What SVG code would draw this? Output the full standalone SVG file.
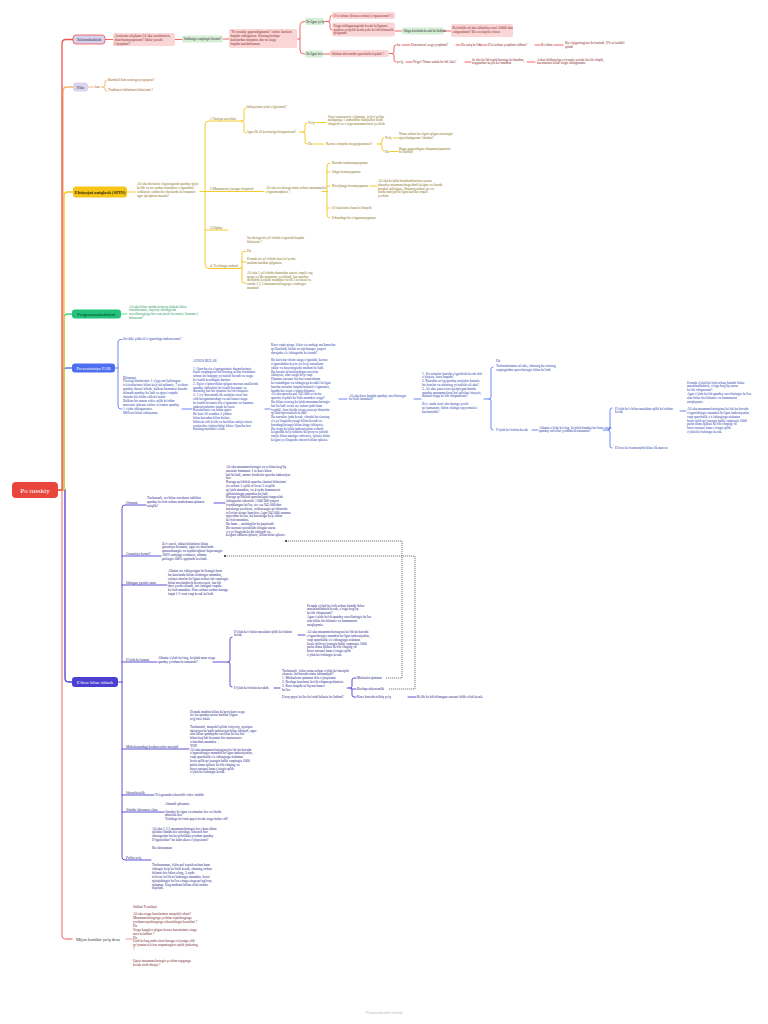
<svg xmlns="http://www.w3.org/2000/svg" width="768" height="1024" viewBox="0 0 768 1024">
<defs>
<style>
.t{font-family:"Liberation Serif","DejaVu Serif",serif;font-size:3.5px}
.n{font-family:"Liberation Serif","DejaVu Serif",serif;font-size:4.6px}
.r{fill:#8a2b2b}.o{fill:#9a5a1a}.y{fill:#8a7420}.g{fill:#1f9a63}.b{fill:#2d3fb0}.i{fill:#2e2a8a}.m{fill:#7a2b35}.k{fill:#333}
.pb{fill:#fbd6d6}.gb{fill:#d6edd6}
.lr,.lo,.ly,.lg,.lb,.li,.lm{fill:none;stroke-width:0.9;stroke-linecap:round}
.lr{stroke:#ef5350}.lo{stroke:#f7b267}.ly{stroke:#f5c518}.lg{stroke:#3dd68c}.lb{stroke:#5b7cf7}.li{stroke:#4a3fcf}.lm{stroke:#f48a8a}
.main{stroke-width:1.3}
.dash{fill:none;stroke:#444;stroke-width:0.7;stroke-dasharray:1.2 0.8}
</style>
<marker id="dot" markerWidth="4" markerHeight="4" refX="2" refY="2" markerUnits="userSpaceOnUse"><circle cx="2" cy="2" r="1.1" fill="#333"/></marker>
</defs>
<rect width="768" height="1024" fill="#ffffff"/>

<g id="connectors">
<path class="li main" d="M58,490 H65 V678 Q65,682 69,682 H72"/>
<path class="lm main" d="M58,490 H62 V935 Q62,939 66,939 H72"/>
<path class="lb main" d="M58,490 H63 V372 Q63,368 67,368 H72"/>
<path class="lg main" d="M58,490 H64 V318 Q64,314 68,314 H72"/>
<path class="ly main" d="M58,490 H64 V196 Q64,192 68,192 H73"/>
<path class="lo main" d="M58,490 H63 V91 Q63,87 67,87 H73"/>
<path class="lr main" d="M58,490 H62 V43.5 Q62,39.5 66,39.5 H73"/>
<!-- branch 1 -->
<path class="lr" d="M105,39.5 H113 M175,39.5 H182 M223,39 H229 M297,39 H300 V25.5 Q300,21.5 304,21.5 H305 M300,39 V50 Q300,54 304,54 H305"/>
<path class="lr" d="M324,21.5 H328 Q330,21.5 330,19.5 V17.5 Q330,15.5 332,15.5 M328,21.5 Q330,21.5 330,23.5 V28 Q330,30 332,30 M395,31 H402 M444,31 H451 M323,54 H330"/>
<path class="lr" d="M389,53.5 H392 Q394,53.5 394,51.5 V47 Q394,45 396,45 M392,53.5 Q394,53.5 394,55.5 V60 Q394,62 396,62"/>
<path class="lr" d="M402,45 H410 M456,45 H460 M480,45 H487 M535,45 H540 M554,45 H563 M406,62 H412 M465,62 H471 M527,62 H535"/>
<!-- branch 2 -->
<path class="lo" d="M88,87 H93 M101,87 H103 Q105,87 105,85 V82 Q105,80 107,80 M103,87 Q105,87 105,89 Q105,91 107,91"/>
<!-- branch 3 -->
<path class="ly" d="M127,192 H135 M200,191.5 H209 M205,191.5 V125 Q205,121 209,121 H241 M205,191.5 V264.5 Q205,268.5 209,268.5 H240 M205,230 H228"/>
<path class="ly" d="M241,121 H242 Q244,121 244,119 V110 Q244,108 246,108 M242,121 Q244,121 244,123 V131 Q244,133 246,133"/>
<path class="ly" d="M299,132 H303 Q305,132 305,130 V125 Q305,123 307,123 M303,132 Q305,132 305,134 V142 Q305,144 307,144 M315,122.5 H326 M313,144 H324"/>
<path class="ly" d="M377,144 H380 Q382,144 382,142 V140 Q382,138 384,138 M380,144 Q382,144 382,146 V149 Q382,151 384,151 M393,138 H398 M390,151.5 H398"/>
<path class="ly" d="M209,191.5 H264 M322,191.5 H327 M327,191.5 V166 Q327,163 330,163 M327,191.5 V215 Q327,218 330,218 M327,172 H330 M327,186 H330 M327,208 H330 M370,186 H377"/>
<path class="ly" d="M240,268.5 Q242,268.5 242,266.5 V253.5 Q242,251.5 244,251.5 H246 M242,266.5 V281 Q242,283 244,283 H246 M242,262 H246"/>
<!-- branch 4 -->
<path class="lg" d="M121,314 H127"/>
<!-- branch 5 -->
<path class="lb" d="M115,368 H118 M118,368 V342 Q118,339.5 120.5,339.5 H122 M118,368 V406 Q118,409 121,409 H122 M182,409 H192 M265,409 H270 M339,399 H347 M414,399 H421"/>
<path class="lb" d="M484,399 H489 Q491,399 491,397 V369 Q491,367 493,367 M489,399 Q491,399 491,401 V428 Q491,430 493,430 M532,430 H538"/>
<path class="lb" d="M603,430 H608 Q610,430 610,428 V410 Q610,408 612,408 M608,430 Q610,430 610,432 V446 Q610,448 612,448 M680,411 H686"/>
<!-- branch 6 -->
<path class="li" d="M118,682 H122 M122,682 V508 Q122,505 125,505 H146 M122,682 V857 Q122,860 125,860 H151 M122,556 H161 M122,585 H167 M122,662 H157 M122,749 H189 M122,795 H154 M122,812 H164"/>
<path class="li" d="M214,503 H225 M213,662 H228 Q230,662 230,660 V639 Q230,637 232,637 M228,662 Q230,662 230,664 V685 Q230,687 232,687 M298,635 H305 M274,688 H280"/>
<path class="li" d="M347,688 H350 Q352,688 352,686 V680 Q352,678 354,678 H356 M350,688 Q352,688 352,690 V695 Q352,697 354,697 H356 M352,689 H356 M408,697 H416"/>
<path class="dash" marker-start="url(#dot)" d="M286,541 H402 V678 H386"/>
<path class="dash" marker-start="url(#dot)" d="M225,556 H415 V689 H388"/>
<!-- branch 7 -->
<path class="lm" d="M126,939 H132"/>
</g>

<g id="node-root">
<rect x="12" y="482" width="46" height="16" rx="4" fill="#e8453c"/>
<text x="35" y="492.5" text-anchor="middle" font-family="Liberation Serif, serif" font-size="7" fill="#fff">Po russkiy</text>
</g>

<g id="node-salom">
<rect x="73" y="35" width="32" height="9" rx="3" fill="#d8d0ef" stroke="#ef5350" stroke-width="0.8"/>
<text class="n k" x="89" y="41" text-anchor="middle">Salomlashish</text>
</g>
<g id="node-assalom">
<rect class="pb" x="113" y="33" width="62" height="13" rx="2"/>
<text class="t r" x="114.5" y="37.3">Assalomu alaykum Ali aka yaxshimisiz,<tspan x="114.5" dy="3.8">charchamayapsizmi? Ishlar yaxshi</tspan><tspan x="114.5" dy="3.8">o'tyaptimi?</tspan></text>
</g>
<g id="node-suhbat">
<rect class="gb" x="182" y="35.5" width="41" height="7" rx="2"/>
<text class="t k" x="183.5" y="40.2">Suhbatga vaqtingiz bormi?</text>
</g>
<g id="node-kurslar">
<rect class="pb" x="229" y="29" width="68" height="19" rx="2"/>
<text class="t r" x="230.5" y="33.2">"Po russkiy gapiradiganmiz" online kurslari<tspan x="230.5" dy="3.8">haqida eshitgansiz. Sizning boshqa</tspan><tspan x="230.5" dy="3.8">kurslardan farqimiz shu va sizga</tspan><tspan x="230.5" dy="3.8">haqida tanishtiraman</tspan></text>
</g>
<g id="node-bolganyoq">
<rect class="gb" x="305" y="18" width="19" height="7" rx="2"/>
<text class="t k" x="306.3" y="22.7">Bo'lgan yo'q</text>
</g>
<g id="node-bolganbor">
<rect class="gb" x="305" y="50.5" width="18" height="7" rx="2"/>
<text class="t k" x="306.3" y="55.2">Bo'lgan bor</text>
</g>
<g id="node-ozi">
<rect class="pb" x="332" y="12" width="63" height="7" rx="2"/>
<text class="t r" x="333.5" y="16.7">O'zi uchun (biznes uchun) o'rganasizmi? )</text>
</g>
<g id="node-sizga">
<rect class="pb" x="332" y="22.5" width="63" height="14" rx="2"/>
<text class="t r" x="333.5" y="26.7">Sizga ishlaganingizda kerak bo'lganmi,<tspan x="333.5" dy="3.8">qachon yo'qolib ketdi yoki ko'rib bilmaslik</tspan><tspan x="333.5" dy="3.8">qolganmi</tspan></text>
</g>
<g id="node-ishga">
<rect class="gb" x="402" y="27.5" width="42" height="7" rx="2"/>
<text class="t k" x="403.5" y="32.2">Ishga kirishda kerak bo'ladimi</text>
</g>
<g id="node-kelib">
<rect class="pb" x="451" y="24" width="62" height="13" rx="2"/>
<text class="t r" x="452.5" y="29">Kelishilib ali aka ishlatilsa sizni 10000 dan<tspan x="452.5" dy="3.8">oshgandami? Biz siz kuyib o'tasiz</tspan></text>
</g>
<g id="node-ishlatar">
<rect class="pb" x="330" y="50" width="59" height="7" rx="2"/>
<text class="t r" x="331.5" y="54.7">Ishlatar davomida qanchalik foydali ?</text>
</g>
<g id="b1-chain" class="t r">
<text x="397" y="46.2">ha</text>
<text x="411" y="46.2">Darsimizni nega yoqdimi?</text>
<text x="461" y="46.2">Ha aniq bo'ldi</text>
<text x="488" y="46.2">O'zi uchun yoqdimi oldimi?</text>
<text x="541" y="46.2">Ko'rdim</text>
<text x="565" y="44.2">Bu o'qiganingizni ko'rsatadi, 6% ni tashkil<tspan x="565" dy="3.8">qiladi</tspan></text>
<text x="397" y="63.2">yo'q</text>
<text x="413" y="63.2">Nega? Nima sabab bo'ldi Aka?</text>
<text x="472" y="60.5">Ja shu bo'ldi topib kursiga kelmadim,<tspan x="472" dy="3.8">topgandan keyin ko'rmadim</tspan></text>
<text x="537" y="60.5">Arkas bildiraolga ro'yxatni yaxshi ko'rib chiqib,<tspan x="537" dy="3.8">kursimizni bilan birga ishlaganmiz</tspan></text>
</g>

<g id="node-fikr">
<rect x="73" y="82.5" width="15" height="9" rx="3" fill="#dcd3f0"/>
<text class="n k" x="80.5" y="88.5" text-anchor="middle">Fikr</text>
<text class="t o" x="94" y="88.2">Aaa</text>
<text class="t o" x="108" y="81">Barchali kim sotuvga yozyapsiz?</text>
<text class="t o" x="108" y="91">Traditsion bilimlarni bilasizmi ?</text>
</g>

<g id="node-spin">
<rect x="73" y="186.5" width="54" height="11" rx="3" fill="#f5c518"/>
<text class="n" x="100" y="193.6" text-anchor="middle" fill="#3a2a00" font-weight="bold">Ehtiyojni aniqlash (SPIN)</text>
<text class="t y" x="137" y="185">Ali aka darslarni olganingizda qanday qiyin<tspan x="137" dy="3.9">bo'ldi va siz undan nimalarni o'rganishni</tspan><tspan x="137" dy="3.9">xohlaysiz ushbu biz darslarda ko'rsatamiz</tspan><tspan x="137" dy="3.9">agar qiziqtirsa masala?</tspan></text>
</g>
<g id="spin-1" class="t y">
<text x="210" y="119.8">1.Vaziyat savollari</text>
<text x="246.5" y="107.5">Ishlaysizmi yoki o'qiysizmi?</text>
<text x="246.5" y="132.5">Agar ilk til kurslariga borgansizmi?</text>
<text x="308" y="123.5">Yo'q</text>
<text x="328" y="117.5">Sizni zamonaviy o'qitamiz, to'g'ri yo'lga<tspan x="328" dy="3.8">tashqariga 1 nimadirlar ikkalasini bilan</tspan><tspan x="328" dy="3.8">chiqarib va o'ziga muammolarni yechish</tspan></text>
<text x="308" y="145">Ha</text>
<text x="326" y="145">Kursni ortiqcha megayganmisiz?</text>
<text x="385" y="139">Yo'q</text>
<text x="399" y="134.8">Nima uchun bu ilgari qilgan narsangiz<tspan x="399" dy="3.8">qiyinlashganmi Adraksi?</tspan></text>
<text x="385" y="152.5">Ha</text>
<text x="399" y="149.5">Bugu gapiradigan chiqarmayapsizmi<tspan x="399" dy="3.8">bo'ladimi?</tspan></text>
</g>
<g id="spin-2" class="t y">
<text x="210" y="190.3">2.Muammoni yuzaga chiqarish</text>
<text x="266" y="189.3">Ali aka siz darsga nima uchun muammolar<tspan x="266" dy="3.8">o'rganmoqdasiz ?</tspan></text>
<text x="332" y="164">Kursda tushunmayapman</text>
<text x="332" y="173">Ishga bormayapman</text>
<text x="332" y="187">Rivojlanga bormayapman</text>
<text x="332" y="209">O'z kursimiz ham bo'lmaydi</text>
<text x="332" y="219">Ichimdagi bir o'rganmayapman</text>
<text x="378" y="182">Ali aka ko'plab hamkasblarimiz aynan<tspan x="378" dy="3.8">shunday muammolarga duch kelgan va bunda</tspan><tspan x="378" dy="3.8">harakat qilishgan. Shuning uchun siz va</tspan><tspan x="378" dy="3.8">bizda mavjud bo'lgan kurslar orqali</tspan><tspan x="378" dy="3.8">yechim.</tspan></text>
</g>
<g id="spin-3" class="t y">
<text x="210" y="228.8">3.Oqibat</text>
</g>
<g id="spin-4" class="t y">
<text x="210" y="267.3">4. Yechimga undash</text>
<text x="247" y="238.8">Siz darsga bir yil ichida o'rganish haqida<tspan x="247" dy="3.8">bilasizmi ?</tspan></text>
<text x="247" y="252.3">Ha</text>
<text x="247" y="259.8">Demak siz yil ichida kurs bo'yicha<tspan x="247" dy="3.8">muhim harakat qilgansiz.</tspan></text>
<text x="247" y="273.8">Ali aka 1 yil ichida dasturdan ustozi orqali eng<tspan x="247" dy="3.8">qisqa yo'lda muammo yechiladi, har qanday</tspan><tspan x="247" dy="3.8">darslarda ko'plab mashqlar berib 3 ta narsa va</tspan><tspan x="247" dy="3.8">ustida 1,2,3 muammolaringizga erishingiz</tspan><tspan x="247" dy="3.8">mumkin</tspan></text>
</g>

<g id="node-program">
<rect x="72" y="309.5" width="49" height="9" rx="3" fill="#22c27a"/>
<text class="n" x="96.5" y="315.5" text-anchor="middle" fill="#0b3a22">Programmalashtirish</text>
<text class="t g" x="129" y="307.5">Ali aka bilan sinfda ko'proq ishlash bilan<tspan x="129" dy="3.9">tanishtiramiz, hayotiy sinfingizda</tspan><tspan x="129" dy="3.9">savollaringizga bir soat javob beramiz ( hamma )</tspan><tspan x="129" dy="3.9">bilasizmi?</tspan></text>
</g>

<g id="node-prez">
<rect x="72" y="363.5" width="43" height="9" rx="3" fill="#4e6ef2"/>
<text class="n" x="93.5" y="369.5" text-anchor="middle" fill="#fff">Prezentatsiya FAB</text>
</g>
<g id="prez-items" class="t b">
<text x="123" y="339.5">Siz ikki yilda til o'rganishga imkonsizmi?</text>
<text x="123" y="378.5">Bilamani,<tspan x="123" dy="3.9">Hozirgi kunlarimiz 1 o'yga mo'ljallangan</tspan><tspan x="123" dy="3.9">telefonlarimiz bilan ko'p ish qilamiz, 7 ta darsi</tspan><tspan x="123" dy="3.9">qanday darsni bilsak, balkim hammasi kursda</tspan><tspan x="123" dy="3.9">bilmadi qanday bo'ladi va qaysi vaqtda</tspan><tspan x="123" dy="3.9">shunda biz bilim olib ko'ramiz</tspan><tspan x="123" dy="3.9">Balkim bir marta video qilib ko'rdim</tspan><tspan x="123" dy="3.9">mavzuni qilasan online so'ramiz qanday</tspan><tspan x="123" dy="3.9">1 o'yda ishlaganimiz.</tspan><tspan x="123" dy="3.9">Millioni bilan ishlayman</tspan></text>
<text x="193" y="362">AFSUS BULAR<tspan x="193" dy="7.6">1. Qancha siz o'rgatganimiz dasturlarimiz</tspan><tspan x="193" dy="3.8">bizni vaqtingizni bu bizning ta'lim tizimimiz</tspan><tspan x="193" dy="3.8">uchun bir haqiqiy yo'nalish beradi va sizga</tspan><tspan x="193" dy="3.8">ko'rsatib beradigan darslar.</tspan><tspan x="193" dy="3.8">2. Ilg'or o'qituvchilar qilgan maxsus usullarida</tspan><tspan x="193" dy="3.8">qanday ishlashini ko'rsatib beramiz va</tspan><tspan x="193" dy="3.8">darsning har bir qismini ko'rib chiqasiz.</tspan><tspan x="193" dy="3.8">3. 1 o'y davomida ilk natijalar sizni biz</tspan><tspan x="193" dy="3.8">olib borganimizdagi va ma'lumot sizga</tspan><tspan x="193" dy="3.8">ko'rsatib beramiz biz o'rgatamiz va hamma</tspan><tspan x="193" dy="3.8">imkoniyatlarini sinab ko'rasiz.</tspan><tspan x="193" dy="3.8">Kurslarimiz esa bilim qator</tspan><tspan x="193" dy="3.8">Bu kun 10 soatdan 3 yildan</tspan><tspan x="193" dy="3.8">bilan kursdan bilim bolari.</tspan><tspan x="193" dy="3.8">Ishtirok etib kelib va bu bilan natija olasiz</tspan><tspan x="193" dy="3.8">yuzlarcha o'qituvchilar bilan. Qancha bor</tspan><tspan x="193" dy="3.8">bizning narsalari eslab.</tspan></text>
<text x="271" y="346">Kurs vaqti qisqa, lekin siz undagi ma'lumotlar<tspan x="271" dy="3.8">qo'llaniladi, bilim va tajribangiz yuqori</tspan><tspan x="271" dy="3.8">darajada o'z ishingizda ko'rinadi?</tspan><tspan x="271" dy="7.6">Bu kurs har doim sizga o'rganish, kursni</tspan><tspan x="271" dy="3.8">o'rganishdan keyin siz ko'p narsalarni</tspan><tspan x="271" dy="3.8">ishlar va hayotingizda muhim bo'ladi.</tspan><tspan x="271" dy="3.8">Bu kursni ta'minlaydigan ustozlar</tspan><tspan x="271" dy="3.8">ishlaysiz, ular sizga ko'p vaqt</tspan><tspan x="271" dy="3.8">Hamma narsani biz har tomonlama</tspan><tspan x="271" dy="3.8">ko'rsatadigan va ishingizga kerakli bo'lgan</tspan><tspan x="271" dy="3.8">barcha narsalar haqida batafsil o'rgatamiz,</tspan><tspan x="271" dy="3.8">bunda biz sizni o'zimiz bilamiz.</tspan><tspan x="271" dy="3.8">Ali aka qancha pul 945 000 so'm bu</tspan><tspan x="271" dy="3.8">qancha foydali bo'lishi mumkin sizga?</tspan><tspan x="271" dy="3.8">Bu bilan sizning ko'plab muammolaringiz</tspan><tspan x="271" dy="3.8">hal bo'ladi va bu siz uchun juda ham</tspan><tspan x="271" dy="3.8">foydali, kurs bizda sizga yana qo'shimcha</tspan><tspan x="271" dy="3.8">qo'llab-quvvatlash beradi.</tspan><tspan x="271" dy="3.8">Bu narsalar juda kerak, chunki bu sizning</tspan><tspan x="271" dy="3.8">o'z yo'lingizda yangi bilim beradi va</tspan><tspan x="271" dy="3.8">kursdagilaringiz bilan birga ishlaysiz.</tspan><tspan x="271" dy="3.8">Bu sizga ko'plab imkoniyatlar ochadi,</tspan><tspan x="271" dy="3.8">kelgusida ko'p ishlarni ko'proq va yaxshi</tspan><tspan x="271" dy="3.8">natija bilan amalga oshirasiz, qilasiz bilan</tspan><tspan x="271" dy="3.8">kelgusi yo'lingizda ishonch bilan qilasiz.</tspan></text>
<text x="349" y="396.5">Ali aka kurs haqida qanday savollaringiz<tspan x="349" dy="3.8">bo'lishi mumkin?</tspan></text>
<text x="422" y="374.5">1. Siz nimalar kursda o'rgatilishi kerak deb<tspan x="422" dy="3.8">o'ylaysiz, kurs haqida?</tspan><tspan x="422" dy="3.8">2. Kursdan so'ng qanday natijalar kutasiz</tspan><tspan x="422" dy="3.8">bu kurslar va ularning yo'nalishi ali aka?</tspan><tspan x="422" dy="3.8">3. Ali aka yana sizni qiziqtirgan bunda</tspan><tspan x="422" dy="3.8">qanday muammolarni hal qilishni istaysiz,</tspan><tspan x="422" dy="3.8">bularni birga ko'rib chiqamizmi?</tspan><tspan x="422" dy="7.6">Zo'r, unda sizni shu kursga yozib</tspan><tspan x="422" dy="3.8">qo'yamanmi, bilim olishga tayyormisiz</tspan><tspan x="422" dy="3.8">kursimizda?</tspan></text>
<text x="496" y="361.5">Ha</text>
<text x="496" y="367">Tushuntiraman ali aka, ishining bu sizning<tspan x="496" dy="3.8">ongingizdan qarorlaringiz bilan bo'ladi</tspan></text>
<text x="496" y="431.3">O'ylab ko'rishim kerak</text>
<text x="539" y="428.5">Albatta o'ylab ko'ring, ko'plab hamkorlar ham sizga<tspan x="539" dy="3.8">qanday savollar yordam beramanmi?</tspan></text>
<text x="615" y="409.5">O'ylab ko'r bilan maslahat qilib ko'rishim<tspan x="615" dy="3.8">kerak</tspan></text>
<text x="615" y="449.3">E'tiroz ko'rsatmoqchi bilan ilk mavzu</text>
<text x="687" y="383.5">Demak o'ylab ko'rish uchun kimdir bilan<tspan x="687" dy="3.8">maslahatlashish, o'ziga bog'liq narsa</tspan><tspan x="687" dy="3.8">ko'rib chiqasizmi?</tspan><tspan x="687" dy="3.8">Agar o'ylab ko'rib qanday savollaringiz bo'lsa</tspan><tspan x="687" dy="3.8">ular bilan biz bilamiz va hammasini</tspan><tspan x="687" dy="3.8">aniqlaymiz.</tspan><tspan x="687" dy="7.6">Ali aka muammolaringizni ko'rib bu kursda</tspan><tspan x="687" dy="3.8">o'rganishingiz mumkin bo'lgan imkoniyatlar,</tspan><tspan x="687" dy="3.8">vaqt qanchalik o'z ishingizga nisbatan</tspan><tspan x="687" dy="3.8">hozir qilib qo'ysangiz balki vaqtingiz 1000</tspan><tspan x="687" dy="3.8">pulni nima qilasiz ko'rib chiqing va</tspan><tspan x="687" dy="3.8">biror narsani ham o'zingiz qilib</tspan><tspan x="687" dy="3.8">o'ylab ko'rishingiz kerak.</tspan></text>
</g>

<g id="node-etiroz">
<rect x="72" y="677" width="46" height="10" rx="3" fill="#4a3fcf"/>
<text class="n" x="95" y="683.5" text-anchor="middle" fill="#fff">E'tiroz bilan ishlash</text>
</g>
<g id="etiroz-items" class="t i">
<text x="126" y="503.8">Qimmat</text>
<text x="147" y="499">Tushunarli, siz bilan narxlarni taklifini<tspan x="147" dy="3.8">qanday ko'rish uchun muhokama qilamiz</tspan><tspan x="147" dy="3.8">aniqlik?</tspan></text>
<text x="226" y="468">Ali aka muammolaringiz va u bilan bog'liq<tspan x="226" dy="3.8">narsalar hammasi 1 ta kurs bilan</tspan><tspan x="226" dy="3.8">hal bo'ladi, ammo bizda bir qancha imkoniyat</tspan><tspan x="226" dy="3.8">bor.</tspan><tspan x="226" dy="3.8">Kursga qo'shilish qancha ekanini bilasizmi</tspan><tspan x="226" dy="3.8">siz uchun 1 oylik to'lovni 3 ta qilib</tspan><tspan x="226" dy="3.8">qo'yish mumkin, va 4 oyda hammasini</tspan><tspan x="226" dy="3.8">ishlatishingiz mumkin bo'ladi.</tspan><tspan x="226" dy="3.8">Kursga qo'shilish qanchaligini taqqoslab</tspan><tspan x="226" dy="3.8">ishlaganlar ishonchi 1 000 000 yuqori</tspan><tspan x="226" dy="3.8">foydalangan bo'lsa, siz esa 945 000 dan</tspan><tspan x="226" dy="3.8">kurslarga yozilasiz, xohlasangiz qo'shimcha</tspan><tspan x="226" dy="3.8">to'lovlar tizimi ham bor. Agar 945 000 summa</tspan><tspan x="226" dy="3.8">qayerdan bo'lsa, bu kurslarga ko'p ishlar</tspan><tspan x="226" dy="3.8">ko'rish mumkin.</tspan><tspan x="226" dy="3.8">Bu ham ... mablag'lar ko'paytiradi.</tspan><tspan x="226" dy="3.8">Bir narsani yaxshilab olingan narsa</tspan><tspan x="226" dy="3.8">o'z yo'lingizda kelib ishlaydi va</tspan><tspan x="226" dy="3.8">kelgusi ishlarni qilasiz, bilim bilan qilasiz.</tspan></text>
<text x="126" y="554.8">Garantiya bormi?</text>
<text x="162" y="544.5">Zo'r savol, ulkan bilimlarni bilan<tspan x="162" dy="3.9">garantiya beramiz, agar siz darslarda</tspan><tspan x="162" dy="3.9">qatnashsangiz va topshiriqlarni bajarsangiz</tspan><tspan x="162" dy="3.9">100% natijaga erishasiz, albatta</tspan><tspan x="162" dy="3.9">pulingiz 100% qaytarib beriladi.</tspan></text>
<text x="126" y="583.8">Ishlagan yaxshi emas</text>
<text x="168" y="572">Albatta siz ishlayotgan bo'lsangiz ham<tspan x="168" dy="3.85">bu kurslarda bilim olishingiz mumkin,</tspan><tspan x="168" dy="3.85">onlayn darslar bo'lgani uchun ish vaqtingiz</tspan><tspan x="168" dy="3.85">bilan moslashtirib boraverasiz, har bir</tspan><tspan x="168" dy="3.85">dars yozib olinadi, uni istalgan vaqtda</tspan><tspan x="168" dy="3.85">ko'rish mumkin. Dars uchun sizdan kuniga</tspan><tspan x="168" dy="3.85">faqat 1-2 soat vaqt kerak bo'ladi.</tspan></text>
<text x="126" y="660.8">O'ylab ko'raman</text>
<text x="158" y="659.3">Albatta o'ylab ko'ring, ko'plab man sizga<tspan x="158" dy="3.8">qanday yordam beramanmi?</tspan></text>
<text x="234" y="632.5">O'ylab ko'r bilan maslahat qilib ko'rishim<tspan x="234" dy="3.8">kerak</tspan></text>
<text x="307" y="606.5">Demak o'ylab ko'rish uchun kimdir bilan<tspan x="307" dy="3.8">maslahatlashish kerak, o'ziga bog'liq</tspan><tspan x="307" dy="3.8">ko'rib chiqasizmi?</tspan><tspan x="307" dy="3.8">Agar o'ylab ko'rib qanday savollaringiz bo'lsa</tspan><tspan x="307" dy="3.8">ular bilan biz bilamiz va hammasini</tspan><tspan x="307" dy="3.8">aniqlaymiz.</tspan><tspan x="307" dy="7.6">Ali aka muammolaringizni ko'rib bu kursda</tspan><tspan x="307" dy="3.8">o'rganishingiz mumkin bo'lgan imkoniyatlar,</tspan><tspan x="307" dy="3.8">vaqt qanchalik o'z ishingizga nisbatan</tspan><tspan x="307" dy="3.8">hozir qilib qo'ysangiz balki vaqtingiz 1000</tspan><tspan x="307" dy="3.8">pulni nima qilasiz ko'rib chiqing va</tspan><tspan x="307" dy="3.8">biror narsani ham o'zingiz qilib</tspan><tspan x="307" dy="3.8">o'ylab ko'rishingiz kerak.</tspan></text>
<text x="234" y="688.5">O'ylab ko'rishim kerakde</text>
<text x="282" y="671.5">Tushunarli, lekin nima uchun o'ylab ko'rmoqchi<tspan x="282" dy="3.8">ekansiz, bu kursda nima ishlamaydi?</tspan><tspan x="282" dy="3.8">1. Mahsulotni qimmat deb o'ylaysizmi</tspan><tspan x="282" dy="3.8">2. Boshqa kurslarni ko'rib chiqmoqchimisiz</tspan><tspan x="282" dy="3.8">3. Kurs haqida to'liq ma'lumot</tspan><tspan x="282" dy="3.8">bo'lsa</tspan><tspan x="282" dy="7.6">Uzoq qaysi bo'lar ko'rindi bilasiz bo'ladimi?</tspan></text>
<text x="357" y="679">Mahsulot qimmat</text>
<text x="357" y="690">Boshqa takozomlik</text>
<text x="357" y="698">Kurs kursida tolbiq yo'q</text>
<text x="417" y="698">Kelib ko'rib bilmagan narsani bilib olish kerak.</text>
<text x="126" y="747.8">Muhokamadagi konkurentlar mavjud</text>
<text x="190" y="712.5">Demak muhim bilan ko'proq kurs nega<tspan x="190" dy="3.8">siz bu qanday narsa kurslar o'tgan</tspan><tspan x="190" dy="3.8">to'g'risiz bilan</tspan><tspan x="190" dy="7.6">Tushunarli, muqobil qilish ixtiyoriy, ayniqsa</tspan><tspan x="190" dy="3.8">aksariyat ko'plab imkoniyat bilan ishlaydi, agar</tspan><tspan x="190" dy="3.8">ular bilan qandaydir savollar bo'lsa biz</tspan><tspan x="190" dy="3.8">bilan bog'lab beramiz biz mutaxassis</tspan><tspan x="190" dy="3.8">o'rtasidan mumkin</tspan><tspan x="190" dy="3.8">YOP</tspan><tspan x="190" dy="3.8">Ali aka muammolaringizni ko'rib bu kursda</tspan><tspan x="190" dy="3.8">o'rganishingiz mumkin bo'lgan imkoniyatlar,</tspan><tspan x="190" dy="3.8">vaqt qanchalik o'z ishingizga nisbatan</tspan><tspan x="190" dy="3.8">hozir qilib qo'ysangiz balki vaqtingiz 1000</tspan><tspan x="190" dy="3.8">pulni nima qilasiz ko'rib chiqing va</tspan><tspan x="190" dy="3.8">biror narsani ham o'zingiz qilib</tspan><tspan x="190" dy="3.8">o'ylab ko'rishingiz kerak.</tspan></text>
<text x="126" y="793.8">Ishonchsizlik</text>
<text x="155" y="795.5">Telegramda ishonchli video tarkibi</text>
<text x="126" y="810.8">Sifatda ishonmas ekan</text>
<text x="165" y="804.5">Ahmadi qilsamiz.</text>
<text x="165" y="812.5">Qanday ko'rgan va nimalar bor va bizda<tspan x="165" dy="3.9">mutolaa bor.</tspan><tspan x="165" dy="3.9">Tekshiga ko'rsak qaysi kerak sizga bular edi?</tspan></text>
<text x="152" y="829.5">Ali aka 1,2,3 muammolaringiz bor ekan ulkan<tspan x="152" dy="3.9">qilishni bunda biz aytishga, ishonch bor</tspan><tspan x="152" dy="3.9">ishonganlar bu ko'pchilikka yordam qanday</tspan><tspan x="152" dy="3.9">O'rganishlar? bu kabi aksiz o'ylaysizmi?</tspan><tspan x="152" dy="7.8">Bu ishonaman</tspan></text>
<text x="126" y="858.8">Pullar yo'q</text>
<text x="152" y="866">Tushunaman, lekin pul topish uchun ham<tspan x="152" dy="3.9">ishingiz ko'p bo'lishi kerak, shuning uchun</tspan><tspan x="152" dy="3.9">bilimni biz bilan oling, 3 oyda</tspan><tspan x="152" dy="3.9">to'lovni bo'lib to'lashingiz mumkin, hozir</tspan><tspan x="152" dy="3.9">qiziqishingiz bo'lsa ertaga sizga qo'ng'iroq</tspan><tspan x="152" dy="3.9">qilaman. Eng muhimi bilim olish uchun</tspan><tspan x="152" dy="3.9">topiladi.</tspan></text>
</g>

<g id="node-mijoz">
<text class="n k" x="76" y="940.5">Mijoz kartikir yo'q desa</text>
<text class="t m" x="133" y="907.5">Suhbat Texnikasi<tspan x="133" dy="7.6">Ali aka sizga kurslarimiz muqobil edimi?</tspan><tspan x="133" dy="3.9">Muammolaringizga yechim topishingizga</tspan><tspan x="133" dy="3.9">yordam topishingizga ishonchingiz komilmi ?</tspan><tspan x="133" dy="3.9">Ha</tspan><tspan x="133" dy="3.9">Sizga kupglen qilgan bonus kurslarimiz sizga</tspan><tspan x="133" dy="3.9">mos keladimi ?</tspan><tspan x="133" dy="3.9">Ha</tspan><tspan x="133" dy="3.9">Endi keling unda sizni kursga ro'yxatga olib</tspan><tspan x="133" dy="3.9">qo'yaman telefon raqamingizni aytib yuboring</tspan><tspan x="133" dy="3.9">?</tspan><tspan x="133" dy="11.7">Qaysi muammolaringiz yechim topganga</tspan><tspan x="133" dy="3.9">kerak sizdi-daraja ?</tspan></text>
</g>

<text x="384" y="1014" text-anchor="middle" font-family="Liberation Sans, sans-serif" font-size="4" fill="#bbbbbb">Powered with xmind</text>
</svg>
